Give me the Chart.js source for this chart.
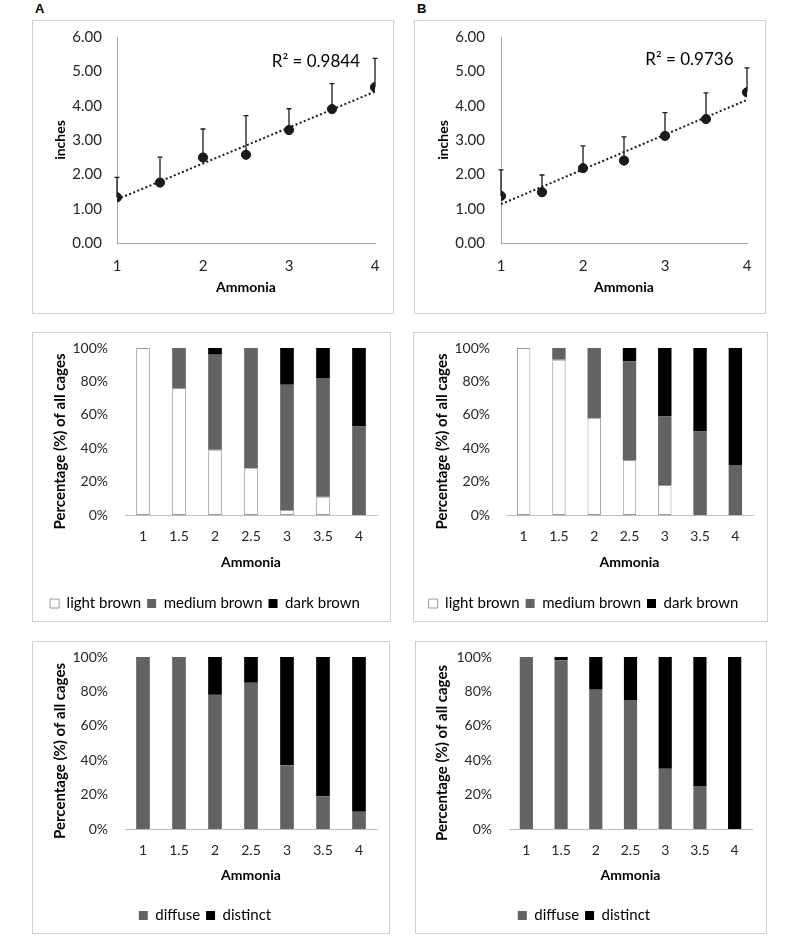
<!DOCTYPE html>
<html>
<head>
<meta charset="utf-8">
<script src="https://cdn.jsdelivr.net/npm/chart.js@4.4.1/dist/chart.umd.min.js"></script>
<style>
  body { margin: 0; background: #fff; width: 800px; height: 938px; position: relative; overflow: hidden; }
  .panel { position: absolute; box-sizing: border-box; border: 1px solid #d0d0d0; background: #fff; }
  .panel canvas { display: block; }
  .tag { position: absolute; font: bold 13px 'Liberation Sans', Arial, sans-serif; color: #000; }
</style>
</head>
<body>
<div class="tag" style="left:35px;top:1px">A</div>
<div class="tag" style="left:417px;top:1px">B</div>

<div class="panel" style="left:32px;top:20px;width:362px;height:294px"><canvas id="heightA" width="360" height="292"></canvas></div>
<div class="panel" style="left:414px;top:20px;width:352px;height:294px"><canvas id="heightB" width="350" height="292"></canvas></div>
<div class="panel" style="left:32px;top:332px;width:359px;height:290px"><canvas id="colorA" width="357" height="288"></canvas></div>
<div class="panel" style="left:413px;top:332px;width:355px;height:290px"><canvas id="colorB" width="353" height="288"></canvas></div>
<div class="panel" style="left:32px;top:641px;width:358px;height:293px"><canvas id="edgeA" width="356" height="291"></canvas></div>
<div class="panel" style="left:415px;top:641px;width:352px;height:293px"><canvas id="edgeB" width="350" height="291"></canvas></div>

<script>
// ammonia levels
const ammonia = ['1', '1.5', '2', '2.5', '3', '3.5', '4'];
const ammoniaX = [1, 1.5, 2, 2.5, 3, 3.5, 4];

// mean height (inches) and upper error bar
const meanA = [1.33, 1.76, 2.49, 2.57, 3.29, 3.90, 4.54];
const errA = [0.58, 0.74, 0.83, 1.14, 0.62, 0.74, 0.84];
const trendA = [1.27, 4.41];   // trendline at x = 1 and x = 4
const meanB = [1.37, 1.48, 2.18, 2.40, 3.12, 3.61, 4.39];
const errB = [0.76, 0.50, 0.65, 0.69, 0.68, 0.76, 0.71];
const trendB = [1.13, 4.17];

// colour classes, % of cages
const lightA = [100, 76, 39, 28, 3, 11, 0];
const mediumA = [0, 24, 57, 72, 75, 71, 53];
const darkA = [0, 0, 4, 0, 22, 18, 47];
const lightB = [100, 93, 58, 33, 18, 0, 0];
const mediumB = [0, 7, 42, 59, 41, 50, 30];
const darkB = [0, 0, 0, 8, 41, 50, 70];

// edge classes, % of cages
const diffuseA = [100, 100, 78, 85, 37, 19, 10];
const distinctA = [0, 0, 22, 15, 63, 81, 90];
const diffuseB = [100, 98, 81, 75, 35, 25, 0];
const distinctB = [0, 2, 19, 25, 65, 75, 100];

const inchTicks = [0, 1, 2, 3, 4, 5, 6];
const pctTicks = [0, 20, 40, 60, 80, 100];

Chart.defaults.font.family = "Lato, 'Open Sans', sans-serif";
Chart.defaults.font.size = 14;
Chart.defaults.color = '#262626';
Chart.defaults.animation = false;

const ink = '#1a1a1a';
const axisGrey = '#a6a6a6';

// draws the upward error bars of dataset 0
const errorBars = {
  id: 'errorBars',
  beforeDatasetsDraw(chart, args, opts) {
    const {ctx, scales: {x, y}} = chart;
    const pts = chart.data.datasets[0].data;
    ctx.save();
    ctx.strokeStyle = ink;
    ctx.lineWidth = 1.3;
    pts.forEach((p, i) => {
      const px = x.getPixelForValue(p.x);
      const y0 = y.getPixelForValue(p.y);
      const y1 = y.getPixelForValue(p.y + opts.errors[i]);
      ctx.beginPath();
      ctx.moveTo(px, y0);
      ctx.lineTo(px, y1);
      ctx.moveTo(px - 2.5, y1);
      ctx.lineTo(px + 2.5, y1);
      ctx.stroke();
    });
    ctx.restore();
  }
};

// R squared text placed in data coordinates
const r2Label = {
  id: 'r2Label',
  afterDatasetsDraw(chart, args, opts) {
    const {ctx, scales: {x, y}} = chart;
    ctx.save();
    ctx.font = "17px Lato, sans-serif";
    ctx.fillStyle = '#000';
    ctx.textAlign = 'left';
    ctx.textBaseline = 'middle';
    ctx.fillText(opts.text, x.getPixelForValue(opts.at[0]), y.getPixelForValue(opts.at[1]));
    ctx.restore();
  }
};

// rotated y title, a little below the plot centre like the original
const yTitle = {
  id: 'yTitle',
  afterDraw(chart, args, opts) {
    const {ctx, chartArea} = chart;
    ctx.save();
    ctx.font = "bold 15px Lato, sans-serif";
    ctx.fillStyle = '#000';
    ctx.textAlign = 'center';
    ctx.textBaseline = 'middle';
    ctx.translate(opts.x, (chartArea.top + chartArea.bottom) / 2 + opts.dy);
    ctx.rotate(-Math.PI / 2);
    ctx.fillText(opts.text, 0, 0);
    ctx.restore();
  }
};

// fixed axis sizes, without the extra label padding chart.js adds around the plot
const fixWidth = w => s => { s.width = w; s.paddingTop = 0; s.paddingBottom = 0; };
const fixHeight = h => s => { s.height = h; s.paddingLeft = 0; s.paddingRight = 0; };

function heightChart(id, means, errs, trend, r2Text, r2At, box) {
  return new Chart(document.getElementById(id), {
    type: 'scatter',
    data: {
      datasets: [{
        data: ammoniaX.map((x, i) => ({x: x, y: means[i]})),
        backgroundColor: ink,
        borderColor: ink,
        pointRadius: 4.6,
        pointHoverRadius: 4.6
      }, {
        type: 'line',
        data: [{x: ammoniaX[0], y: trend[0]}, {x: ammoniaX[ammoniaX.length - 1], y: trend[1]}],
        borderColor: ink,
        borderWidth: 2,
        borderDash: [2, 2.4],
        pointRadius: 0,
        fill: false
      }]
    },
    plugins: [errorBars, r2Label],
    options: {
      responsive: false,
      layout: {padding: {left: 0, top: 16, right: 18, bottom: 0}},
      plugins: {
        legend: {display: false},
        tooltip: {enabled: false},
        errorBars: {errors: errs},
        r2Label: {text: r2Text, at: r2At}
      },
      scales: {
        x: {
          type: 'linear', min: 1, max: 4,
          ticks: {stepSize: 1, padding: 14.4, font: {size: 15}},
          grid: {display: false, drawTicks: false},
          border: {display: true, color: axisGrey},
          title: {display: true, text: 'Ammonia', color: '#000', font: {size: 14, weight: 'bold'}, padding: {top: 0, bottom: 17.6}},
          afterFit: fixHeight(70)
        },
        y: {
          min: 0, max: 6,
          afterBuildTicks: s => { s.ticks = inchTicks.map(v => ({value: v})); },
          ticks: {padding: box.yp, font: {size: 15}, callback: v => v.toFixed(2)},
          grid: {display: false, drawTicks: false},
          border: {display: true, color: axisGrey},
          title: {display: true, text: 'inches', color: '#000', font: {size: 14, weight: 'bold'}, padding: {top: box.tp, bottom: 0}},
          afterFit: fixWidth(box.yw)
        }
      }
    }
  });
}

function stackChart(id, labels, series, colors, box) {
  return new Chart(document.getElementById(id), {
    type: 'bar',
    data: {
      labels: ammonia,
      datasets: series.map((d, i) => ({
        label: labels[i],
        data: d,
        backgroundColor: colors[i],
        borderColor: colors[i] === '#ffffff' ? '#9a9a9a' : colors[i],
        borderWidth: colors[i] === '#ffffff' ? 1 : 0,
        borderSkipped: false,
        barPercentage: 0.38,
        categoryPercentage: 1
      }))
    },
    plugins: [yTitle],
    options: {
      responsive: false,
      layout: {padding: {left: 0, top: 15, right: box.right, bottom: 0}},
      plugins: {
        tooltip: {enabled: false},
        yTitle: {text: 'Percentage (%) of all cages', x: box.tx, dy: box.dy},
        legend: {
          position: 'bottom',
          labels: {boxWidth: 9, boxHeight: 9, padding: 6, font: {size: 15}, color: '#000'}
        }
      },
      scales: {
        x: {
          stacked: true,
          ticks: {padding: box.xp},
          grid: {display: false, drawTicks: false},
          border: {display: true, color: '#bfbfbf'},
          title: {display: true, text: 'Ammonia', color: '#000', font: {size: 14, weight: 'bold'}, padding: {top: 0, bottom: box.xtb}},
          afterFit: fixHeight(box.xh)
        },
        y: {
          stacked: true, min: 0, max: 100,
          afterBuildTicks: s => { s.ticks = pctTicks.map(v => ({value: v})); },
          ticks: {padding: box.yp, callback: v => v + '%'},
          grid: {display: false, drawTicks: false},
          border: {display: false},
          afterFit: fixWidth(box.yw)
        }
      }
    }
  });
}

const colourNames = ['light brown', 'medium brown', 'dark brown'];
const colourFills = ['#ffffff', '#636363', '#000000'];
const edgeNames = ['diffuse', 'distinct'];
const edgeFills = ['#636363', '#000000'];

heightChart('heightA', meanA, errA, trendA, 'R² = 0.9844', [2.80, 5.30],
  {yw: 84, yp: 15, tp: 18.6});
heightChart('heightB', meanB, errB, trendB, 'R² = 0.9736', [2.76, 5.33],
  {yw: 86, yp: 16, tp: 19.6});

stackChart('colorA', colourNames, [lightA, mediumA, darkA], colourFills,
  {right: 13, xh: 75, xp: 12.6, xtb: 19.6, yw: 92, yp: 17, tx: 27, dy: 10});
stackChart('colorB', colourNames, [lightB, mediumB, darkB], colourFills,
  {right: 14, xh: 75, xp: 12.6, xtb: 19.6, yw: 92, yp: 16, tx: 28, dy: 10});

stackChart('edgeA', edgeNames, [diffuseA, distinctA], edgeFills,
  {right: 12, xh: 73, xp: 12.6, xtb: 18.6, yw: 92, yp: 17, tx: 27, dy: 8});
stackChart('edgeB', edgeNames, [diffuseB, distinctB], edgeFills,
  {right: 14, xh: 73, xp: 12.6, xtb: 18.6, yw: 93, yp: 17, tx: 26, dy: 10});
</script>
</body>
</html>
